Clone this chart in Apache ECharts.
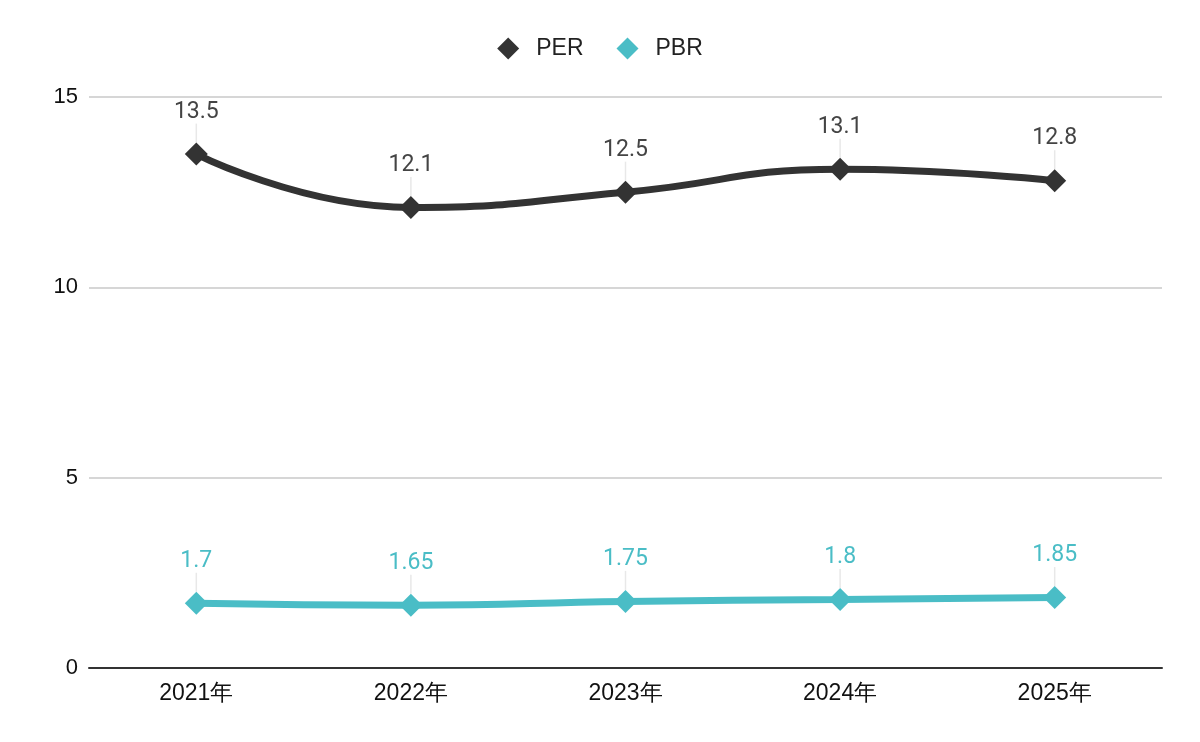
<!DOCTYPE html>
<html><head><meta charset="utf-8">
<script src="https://cdn.jsdelivr.net/npm/echarts@6/dist/echarts.min.js"></script>
<style>html,body{margin:0;padding:0;background:#fff}#c{width:1200px;height:742px}</style>
</head><body><div id="c"></div>
<script>
const categories = ['2021年','2022年','2023年','2024年','2025年'];
const perValues = [13.5, 12.1, 12.5, 13.1, 12.8];
const pbrValues = [1.7, 1.65, 1.75, 1.8, 1.85];
const yTicks = [0, 5, 10, 15];

const chart = echarts.init(document.getElementById('c'));
function mk(name, data, color, labelColor) {
  return {
    name, type: 'line', data, smooth: true,
    symbol: 'diamond', symbolSize: 23,
    lineStyle: { width: 7, color },
    itemStyle: { color },
    label: { show: true, position: 'top', distance: 4, color: labelColor,
      fontFamily: 'Roboto', fontSize: 23 },
    labelLayout: { dy: -15 },
    labelLine: { show: true, lineStyle: { color: '#e8e8e8', width: 1.5 } },
    emphasis: { disabled: true }
  };
}
chart.setOption({
  animation: false,
  legend: {
    top: 32, left: 'center', itemWidth: 22, itemHeight: 22, itemGap: 33,
    textStyle: { fontFamily: 'Liberation Sans', fontSize: 23, color: '#222', padding: [0, 0, 0, 12] },
    data: [{ name: 'PER', icon: 'diamond' }, { name: 'PBR', icon: 'diamond' }]
  },
  grid: { left: 89, right: 38, top: 97, bottom: 74 },
  xAxis: {
    type: 'category', data: categories,
    axisLine: { lineStyle: { color: '#333', width: 2 } },
    axisTick: { show: false },
    axisLabel: { fontFamily: 'Liberation Sans', fontSize: 23, color: '#111', margin: 14 }
  },
  yAxis: {
    type: 'value', min: yTicks[0], max: yTicks[yTicks.length - 1], interval: 5,
    axisLine: { show: false }, axisTick: { show: false },
    axisLabel: { fontFamily: 'Liberation Sans', fontSize: 22, color: '#111', margin: 11 },
    splitLine: { lineStyle: { color: '#c8c8c8', width: 1.5 } }
  },
  series: [mk('PER', perValues, '#333333', '#444444'), mk('PBR', pbrValues, '#4ABDC6', '#4ABDC6')]
});
</script></body></html>
